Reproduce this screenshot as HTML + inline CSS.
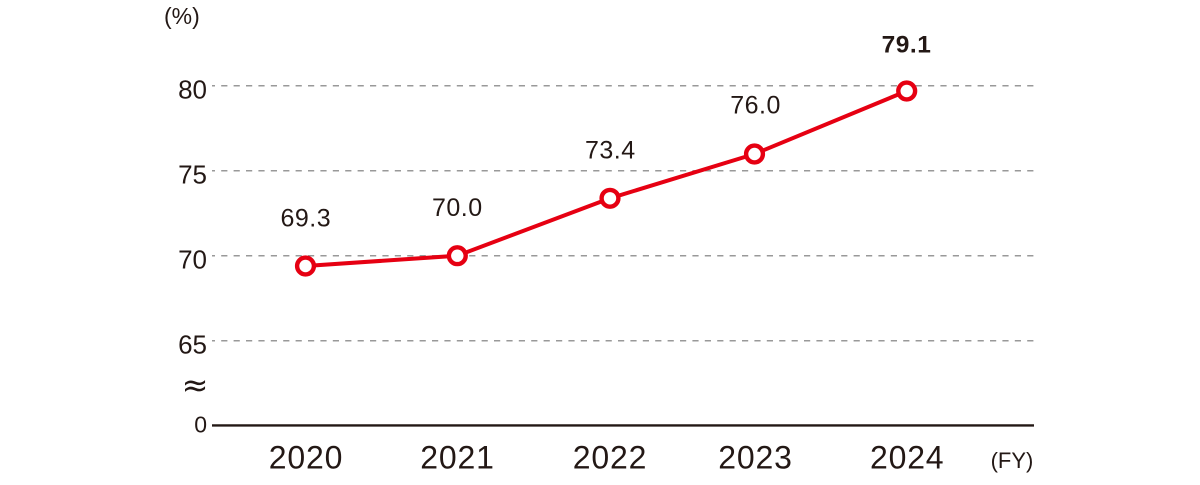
<!DOCTYPE html>
<html>
<head>
<meta charset="utf-8">
<style>
  html,body{margin:0;padding:0;background:#fff;}
  svg{display:block;}
  text{font-family:"Liberation Sans", Arial, sans-serif; fill:#231815;}
</style>
</head>
<body>
<svg width="1200" height="485" viewBox="0 0 1200 485" xmlns="http://www.w3.org/2000/svg">
  <!-- gridlines -->
  <g stroke="#999999" stroke-width="1.5" stroke-dasharray="6.2 6.2" stroke-dashoffset="3.2">
    <line x1="212" y1="85.7" x2="1034" y2="85.7"/>
    <line x1="212" y1="170.7" x2="1034" y2="170.7"/>
    <line x1="212" y1="255.7" x2="1034" y2="255.7"/>
    <line x1="212" y1="340.7" x2="1034" y2="340.7"/>
  </g>
  <!-- axis -->
  <line x1="212" y1="425.4" x2="1034" y2="425.4" stroke="#231815" stroke-width="2.4"/>

  <!-- y labels -->
  <g font-size="26" text-anchor="end">
    <text x="207" y="98.3">80</text>
    <text x="207" y="183.5">75</text>
    <text x="207" y="268.5">70</text>
    <text x="207" y="353.3">65</text>
    <text x="207" y="432.7" font-size="23">0</text>
  </g>
  <text x="195" y="396" font-size="32" text-anchor="middle" style="font-family:'DejaVu Sans', sans-serif;">≈</text>
  <text x="164" y="24" font-size="23">(%)</text>

  <!-- x labels -->
  <g font-size="32" text-anchor="middle" letter-spacing="0.8">
    <text x="306" y="468.3">2020</text>
    <text x="457.5" y="468.3">2021</text>
    <text x="610" y="468.3">2022</text>
    <text x="755.5" y="468.3">2023</text>
    <text x="907.2" y="468.3">2024</text>
  </g>
  <text x="1012" y="468" font-size="22" text-anchor="middle">(FY)</text>

  <!-- line -->
  <polyline points="305.5,266 457.3,255.7 610,198.3 754.5,154 906.7,91" fill="none" stroke="#e60012" stroke-width="4" stroke-linejoin="round"/>
  <g fill="#fff" stroke="#e60012" stroke-width="4.4">
    <circle cx="305.5" cy="266" r="8.4"/>
    <circle cx="457.3" cy="255.7" r="8.4"/>
    <circle cx="610" cy="198.3" r="8.4"/>
    <circle cx="754.5" cy="154" r="8.4"/>
    <circle cx="906.7" cy="91" r="8.4"/>
  </g>

  <!-- value labels -->
  <g font-size="25" text-anchor="middle" letter-spacing="0.5">
    <text x="305.8" y="226.7">69.3</text>
    <text x="457.3" y="216">70.0</text>
    <text x="610.3" y="158.5">73.4</text>
    <text x="755.6" y="113.5">76.0</text>
    <text x="906.5" y="52.3" font-weight="bold" font-size="24.5">79.1</text>
  </g>
</svg>
</body>
</html>
